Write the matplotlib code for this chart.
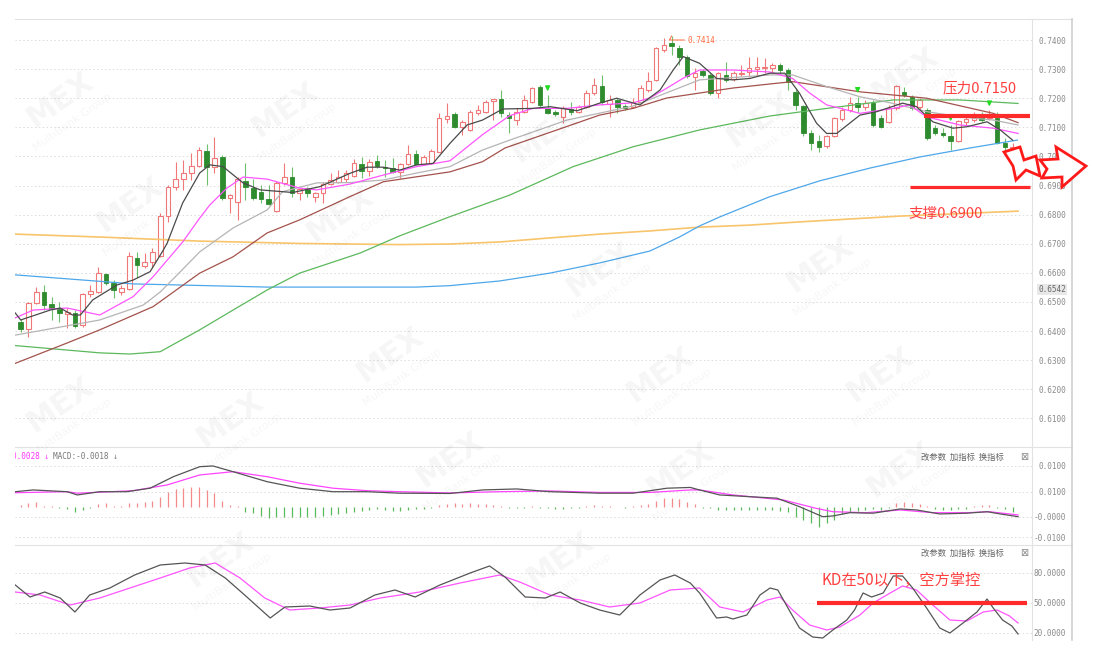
import numpy as np
import matplotlib.pyplot as plt
from matplotlib.patches import Rectangle, Polygon
from matplotlib.lines import Line2D

plt.rcParams['font.family'] = ['Noto Sans CJK SC', 'DejaVu Sans']
MONO = ['DejaVu Sans Mono']

# ---- daily candles ----
opens = [0.6432, 0.6406, 0.6497, 0.6535, 0.6493, 0.6476, 0.6459, 0.6461, 0.6421, 0.6527,
         0.6535, 0.6596, 0.6564, 0.6535, 0.6543, 0.6652, 0.6625, 0.6638, 0.6658, 0.6795,
         0.6896, 0.6921, 0.6942, 0.6968, 0.7020, 0.6965, 0.6999, 0.6858, 0.6844, 0.6916,
         0.6890, 0.6879, 0.6853, 0.6812, 0.6910, 0.6930, 0.6873, 0.6890, 0.6862, 0.6873,
         0.6905, 0.6913, 0.6921, 0.6933, 0.6973, 0.6950, 0.6985, 0.6965, 0.6961, 0.6947,
         0.6974, 0.7008, 0.6974, 0.6976, 0.7016, 0.7128, 0.7146, 0.7102, 0.7091, 0.7148,
         0.7154, 0.7191, 0.7196, 0.7142, 0.7125, 0.7154, 0.7188, 0.7237, 0.7165, 0.7154,
         0.7136, 0.7162, 0.7154, 0.7171, 0.7217, 0.7242, 0.7180, 0.7194, 0.7173, 0.7171,
         0.7188, 0.7228, 0.7263, 0.7366, 0.7389, 0.7371, 0.7340, 0.7274, 0.7295, 0.7280,
         0.7219, 0.7280, 0.7265, 0.7283, 0.7291, 0.7299, 0.7303, 0.7303, 0.7314, 0.7297,
         0.7222, 0.7173, 0.7079, 0.7054, 0.7036, 0.7070, 0.7128, 0.7159, 0.7185, 0.7169,
         0.7182, 0.7131, 0.7119, 0.7165, 0.7222, 0.7205, 0.7171, 0.7159, 0.7097, 0.7082,
         0.7070, 0.7054, 0.7119, 0.7125, 0.7134, 0.7131, 0.7133, 0.7047, 0.7028]
highs = [0.6441, 0.6500, 0.6552, 0.6558, 0.6518, 0.6500, 0.6479, 0.6472, 0.6531, 0.6558,
         0.6621, 0.6598, 0.6575, 0.6558, 0.6673, 0.6673, 0.6667, 0.6684, 0.6804, 0.6902,
         0.6982, 0.6988, 0.7011, 0.7033, 0.7043, 0.7068, 0.7005, 0.6870, 0.6930, 0.6978,
         0.6924, 0.6902, 0.6902, 0.6914, 0.6976, 0.6963, 0.6891, 0.6896, 0.6879, 0.6913,
         0.6942, 0.6953, 0.6953, 0.6990, 0.6999, 0.6990, 0.7005, 0.6988, 0.6993, 0.6976,
         0.7039, 0.7022, 0.7005, 0.7026, 0.7150, 0.7182, 0.7154, 0.7125, 0.7159, 0.7177,
         0.7194, 0.7198, 0.7228, 0.7154, 0.7165, 0.7211, 0.7240, 0.7245, 0.7211, 0.7159,
         0.7173, 0.7188, 0.7177, 0.7228, 0.7268, 0.7280, 0.7211, 0.7200, 0.7180, 0.7200,
         0.7245, 0.7291, 0.7376, 0.7406, 0.7414, 0.7383, 0.7348, 0.7303, 0.7299, 0.7287,
         0.7290, 0.7325, 0.7294, 0.7314, 0.7343, 0.7343, 0.7337, 0.7320, 0.7320, 0.7303,
         0.7235, 0.7177, 0.7091, 0.7074, 0.7074, 0.7135, 0.7171, 0.7205, 0.7205, 0.7194,
         0.7194, 0.7142, 0.7177, 0.7245, 0.7237, 0.7211, 0.7200, 0.7165, 0.7108, 0.7097,
         0.7108, 0.7125, 0.7142, 0.7154, 0.7154, 0.7159, 0.7154, 0.7062, 0.7045]
lows = [0.6397, 0.6381, 0.6494, 0.6472, 0.6438, 0.6432, 0.6410, 0.6410, 0.6414, 0.6518,
        0.6531, 0.6558, 0.6512, 0.6524, 0.6541, 0.6587, 0.6616, 0.6621, 0.6655, 0.6776,
        0.6885, 0.6885, 0.6919, 0.6964, 0.6902, 0.6942, 0.6850, 0.6805, 0.6782, 0.6850,
        0.6850, 0.6839, 0.6833, 0.6809, 0.6902, 0.6862, 0.6850, 0.6861, 0.6844, 0.6839,
        0.6902, 0.6908, 0.6913, 0.6929, 0.6925, 0.6933, 0.6959, 0.6928, 0.6942, 0.6925,
        0.6970, 0.6970, 0.6970, 0.6974, 0.7015, 0.7114, 0.7097, 0.7074, 0.7087, 0.7142,
        0.7149, 0.7125, 0.7134, 0.7079, 0.7108, 0.7149, 0.7182, 0.7171, 0.7146, 0.7139,
        0.7114, 0.7142, 0.7149, 0.7166, 0.7211, 0.7177, 0.7136, 0.7148, 0.7159, 0.7165,
        0.7183, 0.7222, 0.7259, 0.7360, 0.7348, 0.7314, 0.7269, 0.7228, 0.7273, 0.7211,
        0.7200, 0.7257, 0.7259, 0.7276, 0.7274, 0.7280, 0.7286, 0.7286, 0.7286, 0.7228,
        0.7159, 0.7070, 0.7022, 0.7016, 0.7029, 0.7067, 0.7122, 0.7153, 0.7154, 0.7159,
        0.7102, 0.7097, 0.7114, 0.7159, 0.7205, 0.7159, 0.7159, 0.7056, 0.7074, 0.7068,
        0.7022, 0.7050, 0.7108, 0.7119, 0.7119, 0.7125, 0.7043, 0.7005, 0.7011]
closes = [0.6406, 0.6497, 0.6535, 0.6489, 0.6475, 0.6461, 0.6467, 0.6418, 0.6526, 0.6539,
          0.6598, 0.6564, 0.6541, 0.6547, 0.6658, 0.6627, 0.6638, 0.6671, 0.6796, 0.6896,
          0.6921, 0.6942, 0.6968, 0.7022, 0.6965, 0.6996, 0.6858, 0.6867, 0.6921, 0.6894,
          0.6856, 0.6853, 0.6836, 0.6910, 0.6930, 0.6873, 0.6887, 0.6873, 0.6873, 0.6905,
          0.6919, 0.6930, 0.6944, 0.6976, 0.6950, 0.6982, 0.6967, 0.6959, 0.6947, 0.6974,
          0.7008, 0.6973, 0.6999, 0.7020, 0.7131, 0.7139, 0.7102, 0.7119, 0.7154, 0.7159,
          0.7188, 0.7196, 0.7148, 0.7131, 0.7154, 0.7194, 0.7234, 0.7177, 0.7148, 0.7146,
          0.7165, 0.7154, 0.7171, 0.7217, 0.7245, 0.7188, 0.7194, 0.7171, 0.7165, 0.7188,
          0.7234, 0.7260, 0.7371, 0.7383, 0.7380, 0.7343, 0.7276, 0.7288, 0.7280, 0.7217,
          0.7286, 0.7263, 0.7288, 0.7288, 0.7303, 0.7306, 0.7308, 0.7314, 0.7297, 0.7257,
          0.7177, 0.7079, 0.7045, 0.7033, 0.7070, 0.7131, 0.7159, 0.7182, 0.7169, 0.7182,
          0.7108, 0.7102, 0.7165, 0.7243, 0.7211, 0.7165, 0.7194, 0.7062, 0.7082, 0.7074,
          0.7054, 0.7122, 0.7128, 0.7131, 0.7125, 0.7137, 0.7047, 0.7031, 0.7034]

# ---- moving averages (sampled at bar positions) ----
ma5_x = [-0.7, 0, 3.8, 5.1, 6.7, 7.7, 9.3, 12.4, 14.5, 16.7, 18.4, 18.9, 20.9, 23.1, 24.4, 26.1,
         28.7, 30.9, 35.1, 38.6, 42.5, 44.7, 46.8, 48.9, 51.1, 53.2, 55.4, 57.6, 59.6, 62.2, 66.1,
         68.3, 71.8, 74.7, 76.9, 79.9, 82.5, 84.2, 85.5, 87.6, 89.8, 91.9, 94.1, 96.7, 98.6, 100.5,
         102.7, 104, 105.3, 108.3, 110.5, 113.8, 115.6, 117.7, 120.3, 122.1, 124.7, 126.4, 128]
ma5_y = [0.6462, 0.6438, 0.6472, 0.6479, 0.6455, 0.6455, 0.6507, 0.6558, 0.6575, 0.6604, 0.6678,
         0.6702, 0.6840, 0.6943, 0.6971, 0.6965, 0.6909, 0.6885, 0.6876, 0.6896, 0.6942, 0.6963,
         0.6963, 0.6953, 0.6971, 0.6976, 0.7045, 0.7108, 0.7125, 0.7163, 0.7165, 0.7171, 0.7157,
         0.7183, 0.7200, 0.7177, 0.7228, 0.7297, 0.7343, 0.7320, 0.7268, 0.7263, 0.7268, 0.7286,
         0.7286, 0.7217, 0.7114, 0.7079, 0.7079, 0.7142, 0.7154, 0.7183, 0.7171, 0.7119, 0.7097,
         0.7102, 0.7119, 0.7091, 0.7056]
ma10_x = [-0.7, 1.6, 6, 10.2, 14.5, 17.1, 20.9, 23.1, 24.4, 26.6, 28.7, 31.8, 36, 38.2, 42.5,
          46.8, 51.1, 55.4, 59.6, 63.1, 66.1, 70.5, 74.7, 79, 81.2, 83.4, 85.5, 87.6, 91.9, 96.7,
          99.6, 101.8, 104, 108.3, 112.6, 114.7, 116.9, 121.2, 125.5, 128.7]
ma10_y = [0.6445, 0.6472, 0.6479, 0.6455, 0.6518, 0.6587, 0.6706, 0.6788, 0.6833, 0.6891, 0.6929,
          0.6922, 0.6891, 0.6885, 0.6905, 0.6936, 0.6965, 0.6985, 0.7075, 0.7140, 0.7165, 0.7165,
          0.7177, 0.7184, 0.7201, 0.7235, 0.7269, 0.7297, 0.7297, 0.7290, 0.7268, 0.7218, 0.7177,
          0.7148, 0.7165, 0.7177, 0.7136, 0.7108, 0.7097, 0.7079]
ma20_x = [-0.7, 10.2, 15.8, 18, 20.2, 23.1, 27.4, 31.8, 33.8, 38.2, 42.5, 46.8, 51.1, 55.4, 59.6,
          63.1, 70.5, 79, 87.6, 96.7, 99.6, 104, 108.3, 112.6, 116.9, 121.2, 125.5, 128.7]
ma20_y = [0.6386, 0.6438, 0.6489, 0.6534, 0.6593, 0.6672, 0.6754, 0.6816, 0.6879, 0.6909, 0.6910,
          0.6919, 0.6943, 0.6965, 0.7022, 0.7056, 0.7125, 0.7173, 0.7263, 0.7280, 0.7280, 0.7240,
          0.7205, 0.7182, 0.7154, 0.7136, 0.7125, 0.7108]
ma30_x = [-0.7, 6, 10.2, 17.1, 23.1, 27.4, 31.8, 36, 42.5, 46.8, 51.1, 55.4, 59.6, 62.5, 74.7,
          79, 83.4, 91.9, 96.7, 99.6, 108.3, 116.9, 125.5, 128.7]
ma30_y = [0.6289, 0.6359, 0.6404, 0.6484, 0.6599, 0.6655, 0.6737, 0.6782, 0.6862, 0.6913, 0.6930,
          0.6947, 0.6982, 0.7029, 0.7142, 0.7165, 0.7201, 0.7235, 0.7249, 0.7257, 0.7222, 0.7200,
          0.7148, 0.7116]
ma60_x = [-0.7, 10.2, 14.1, 18, 23.1, 27.4, 31.8, 36, 40.3, 43.8, 48.9, 55.4, 63.1, 71.3, 79,
          87.6, 96.7, 104, 112.6, 121.2, 128.7]
ma60_y = [0.6350, 0.6325, 0.6321, 0.6329, 0.6404, 0.6472, 0.6541, 0.6599, 0.6637, 0.6668, 0.6727,
          0.6793, 0.6867, 0.6965, 0.7033, 0.7091, 0.7139, 0.7165, 0.7194, 0.7194, 0.7182]
ma120_x = [-0.7, 14.5, 31.8, 51.1, 55.4, 61.8, 68.3, 74.7, 81.2, 85, 87.6, 90.2, 96.6, 103.1,
           109.6, 116, 122.5, 128.6]
ma120_y = [0.6593, 0.6562, 0.6551, 0.6551, 0.6556, 0.6572, 0.6599, 0.6634, 0.6675, 0.6723, 0.6761,
           0.6792, 0.6861, 0.6916, 0.6960, 0.6998, 0.7029, 0.7056]
ma250_x = [-0.7, 10.2, 23.1, 36, 48.9, 55.4, 61.8, 68.3, 74.7, 81.2, 87.6, 94.1, 100.5, 107,
           113.5, 119.9, 128.7]
ma250_y = [0.6733, 0.6723, 0.6709, 0.6701, 0.6697, 0.6699, 0.6706, 0.6720, 0.6733, 0.6744, 0.6757,
           0.6764, 0.6775, 0.6785, 0.6795, 0.6802, 0.6812]

# ---- MACD ----
macd_hist = [0.0007, 0.0016, 0.0020, 0.0004, 0.0003, -0.0007, -0.0011, -0.0020, -0.0013, -0.0004,
             0.0011, 0.0013, 0.0004, 0.0004, 0.0016, 0.0016, 0.0020, 0.0024, 0.0037, 0.0060,
             0.0069, 0.0073, 0.0077, 0.0080, 0.0067, 0.0053, 0.0024, 0.0007, 0.0002, -0.0020,
             -0.0027, -0.0037, -0.0047, -0.0043, -0.0040, -0.0040, -0.0040, -0.0040, -0.0040, -0.0037,
             -0.0033, -0.0029, -0.0027, -0.0020, -0.0016, -0.0013, -0.0011, -0.0013, -0.0016, -0.0016,
             -0.0013, -0.0011, -0.0008, -0.0004, 0.0007, 0.0011, 0.0013, 0.0011, 0.0013, 0.0011,
             0.0009, 0.0007, 0.0004, -0.0004, -0.0007, -0.0004, 0.0002, -0.0004, -0.0007, -0.0009,
             -0.0009, -0.0007, -0.0004, 0.0002, 0.0007, 0.0004, 0.0002, -0.0002, -0.0004, 0.0002,
             0.0007, 0.0011, 0.0024, 0.0033, 0.0036, 0.0029, 0.0020, 0.0011, -0.0004, -0.0007,
             -0.0012, -0.0012, -0.0012, -0.0012, -0.0012, -0.0012, -0.0012, -0.0012, -0.0016, -0.0020,
             -0.0040, -0.0053, -0.0067, -0.0080, -0.0067, -0.0053, -0.0029, -0.0020, -0.0016, -0.0013,
             -0.0011, -0.0013, -0.0004, 0.0013, 0.0020, 0.0016, 0.0011, 0.0002, -0.0011, -0.0013,
             -0.0013, -0.0011, -0.0008, 0.0002, 0.0007, 0.0007, -0.0007, -0.0011, -0.0020]
dif_x = [-0.7, 1.6, 6, 7.3, 10.2, 13.7, 16.7, 19.7, 23.1, 24.8, 27.4, 31.8, 36, 40.3, 44.7, 48.9,
         55.4, 59.6, 64, 68.3, 74.7, 79, 83.4, 86.4, 87.6, 90.2, 94.1, 97.6, 100.5, 103.5, 104.8,
         107, 110, 113.5, 115.6, 118.6, 122.1, 124.7, 126.4, 128.7]
dif_y = [0.0060, 0.0067, 0.0060, 0.0047, 0.0060, 0.0060, 0.0074, 0.0120, 0.0160, 0.0163, 0.0140,
         0.0100, 0.0074, 0.0060, 0.0060, 0.0054, 0.0053, 0.0067, 0.0071, 0.0060, 0.0054, 0.0054,
         0.0074, 0.0077, 0.0067, 0.0047, 0.0040, 0.0034, 0.0000, -0.0040, -0.0037, -0.0024, -0.0026,
         -0.0009, -0.0013, -0.0029, -0.0026, -0.0020, -0.0029, -0.0040]
dea_x = [-0.7, 6, 7.3, 14.5, 18.9, 23.1, 27.4, 31.8, 36, 40.3, 44.7, 48.9, 55.4, 61.8, 68.3, 74.7,
         81.2, 86.4, 87.6, 91.9, 98.4, 102.7, 104.8, 109.1, 113.5, 117.7, 122.1, 125, 128.7]
dea_y = [0.0056, 0.0060, 0.0054, 0.0064, 0.0087, 0.0127, 0.0140, 0.0120, 0.0094, 0.0074, 0.0064,
         0.0060, 0.0055, 0.0060, 0.0063, 0.0057, 0.0057, 0.0067, 0.0067, 0.0047, 0.0027, -0.0007,
         -0.0020, -0.0024, -0.0013, -0.0024, -0.0024, -0.0020, -0.0033]
macd_ticks = [0.0163, 0.0060, -0.0040, -0.0122]
macd_labels = ['0.0100', '0.0100', '-0.0000', '-0.0100']

# ---- KD ----
k_x = [-0.7, 1.2, 3.1, 5.1, 7.0, 8.9, 11.5, 14.7, 18, 21.2, 23.8, 26.4, 28.9, 32.2, 34.1, 37.3,
       39.9, 42.5, 45.7, 48.3, 50.9, 54.1, 58, 60.5, 62.5, 65.1, 67.7, 69.6, 72.2, 74.7, 77.3, 79.9,
       82.5, 84.4, 86.4, 87.6, 89.8, 91.1, 91.9, 93.7, 95.4, 96.7, 97.7, 99.3, 100.5, 102.2, 103.5,
       104.8, 106.6, 107.6, 108.7, 109.8, 111.3, 112.6, 113.8, 115.1, 116.9, 118.6, 119.9, 121.6,
       123.4, 124.7, 125.5, 126.7, 127.9, 128.7]
k_y = [68, 56, 61, 55, 41, 58, 65, 78, 88, 90, 88, 75, 58, 35, 46, 47, 43, 45, 58, 63, 56, 68, 80,
       87, 76, 56, 55, 61, 50, 43, 38, 58, 73, 78, 70, 60, 35, 36, 34, 38, 58, 65, 63, 41, 25, 16,
       15, 23, 33, 43, 60, 56, 60, 77, 77, 65, 45, 25, 20, 30, 41, 54, 45, 33, 27, 19]
d_x = [-0.7, 2.5, 6.4, 10.2, 14.1, 18, 21.8, 25.1, 28.3, 31.5, 34.7, 38.6, 42.5, 46.4, 51.5, 56.7,
       61.8, 64.4, 68.3, 72.2, 76, 79.9, 83.8, 87.6, 90.2, 93.2, 96.3, 98, 99.6, 101.8, 104, 105.7,
       108.3, 110, 112.2, 113.8, 115.6, 117.7, 119.9, 122.1, 124.2, 126, 127.6, 128.7]
d_y = [61, 58, 48, 55, 65, 75, 85, 90, 75, 55, 43, 45, 48, 55, 61, 70, 78, 71, 58, 53, 46, 50, 63,
       65, 46, 41, 53, 56, 43, 28, 23, 26, 38, 50, 60, 67, 63, 48, 33, 32, 41, 43, 37, 30]

price_ticks = [0.61, 0.62, 0.63, 0.64, 0.65, 0.66, 0.67, 0.68, 0.69, 0.70, 0.71, 0.72, 0.73, 0.74]
resist_level, support_level = 0.7140, 0.6896
signal_bars = [68, 108, 120, 125]

W, H = 1094, 663
fig = plt.figure(figsize=(W / 100, H / 100), dpi=100)


def box(x0, y0, x1, y1):
    return [x0 / W, 1 - y1 / H, (x1 - x0) / W, (y1 - y0) / H]


ax = fig.add_axes(box(15, 19, 1032, 447))
ax2 = fig.add_axes(box(15, 447, 1032, 545))
ax3 = fig.add_axes(box(15, 545, 1032, 640))
XL = (-0.735, 130.5)
grid_kw = dict(color='#dcdcdc', linestyle=(0, (1.5, 2.5)), lw=0.7)

for a in (ax, ax2, ax3):
    a.set_xlim(*XL)
    a.set_facecolor('none')
    for s in a.spines.values():
        s.set_visible(False)
    a.set_xticks([])
    a.yaxis.tick_right()
    a.tick_params(axis='y', length=0, pad=24.5, labelsize=5.6, labelcolor='#8a8a8a')
    a.grid(axis='y', **grid_kw)

# ---- main price panel ----
o, h, l, c = map(np.array, (opens, highs, lows, closes))
idx = np.arange(len(c))
up = c >= o
red, green = '#f07878', '#2e8b2e'
ax.vlines(idx[up], l[up], h[up], color=red, lw=0.8, zorder=3)
ax.vlines(idx[~up], l[~up], h[~up], color='#6cbf6c', lw=0.8, zorder=3)
for i in idx:
    lo, hi = min(o[i], c[i]), max(o[i], c[i])
    hgt = max(hi - lo, 0.00015)
    if up[i]:
        ax.add_patch(Rectangle((i - 0.3, lo), 0.6, hgt, facecolor='white', edgecolor=red,
                               lw=0.8, zorder=4))
    else:
        ax.add_patch(Rectangle((i - 0.3, lo), 0.6, hgt, facecolor=green, edgecolor=green,
                               lw=0.6, zorder=4))

ma_lines = [(ma250_x, ma250_y, '#f8c46c', 1.2), (ma120_x, ma120_y, '#4ea7ea', 0.9),
            (ma60_x, ma60_y, '#5cb85c', 0.9), (ma30_x, ma30_y, '#a4524c', 0.9),
            (ma20_x, ma20_y, '#b5b5b5', 0.9), (ma10_x, ma10_y, '#ff55ff', 0.9),
            (ma5_x, ma5_y, '#4a4a4a', 0.9)]
for xs, ys, col, lw in ma_lines:
    ax.plot(xs, ys, color=col, lw=lw, zorder=5)

for i in signal_bars:
    ax.annotate('', xy=(i, h[i] + 0.0003), xytext=(i, h[i] + 0.0036),
                arrowprops=dict(arrowstyle='-|>', color='#22dd22', lw=1.0, mutation_scale=7),
                zorder=6)

ax.annotate('0.7414', xy=(84, 0.7414), xytext=(86.0, 0.7400), fontsize=5.6, family=MONO,
            color='#ff6a3d', va='center', ha='left',
            arrowprops=dict(arrowstyle='-', color='#ff6a3d', lw=0.7, shrinkA=0, shrinkB=0,
                            connectionstyle='angle,angleA=0,angleB=60,rad=0'))

ax.set_ylim(0.60015, 0.74722)
ax.set_yticks(price_ticks)
ax.set_yticklabels([f'{v:.4f}' for v in price_ticks])
ax.text(1.0334, 0.6542, '0.6542', transform=ax.get_yaxis_transform(), ha='right', va='center',
        fontsize=5.6, family=MONO, color='#666666', clip_on=False,
        bbox=dict(boxstyle='square,pad=0.15', facecolor='#e8e8e8', edgecolor='none'))

ax.hlines(resist_level, 116.6, 130.3, color='#ff2a2a', lw=3.0, zorder=7)
ax.hlines(support_level, 114.7, 130.3, color='#ff2a2a', lw=2.3, zorder=7)
ax.text(119.0, 0.7235, '压力0.7150', color='#ff4040', fontsize=10.5, va='center', ha='left',
        zorder=8)
ax.text(114.5, 0.6802, '支撑0.6900', color='#ff4040', fontsize=10.5, va='center', ha='left',
        zorder=8)

# ---- MACD panel ----
hist = np.array(macd_hist)
pos = hist >= 0
ax2.vlines(idx[pos], 0, hist[pos], color='#f28c8c', lw=0.9)
ax2.vlines(idx[~pos], 0, hist[~pos], color='#5cb85c', lw=0.9)
ax2.plot(dea_x, dea_y, color='#ff44ff', lw=0.9)
ax2.plot(dif_x, dif_y, color='#555555', lw=0.9)
ax2.set_ylim(-0.01532, 0.02388)
ax2.set_yticks(macd_ticks)
ax2.set_yticklabels(macd_labels)
ax2.text(-0.003, 0.898, '0.0028 ↓', transform=ax2.transAxes, color='#ff33ff', fontsize=5.6,
         family=MONO, va='center', ha='left', clip_on=True)
ax2.text(0.0374, 0.898, 'MACD:-0.0018 ↓', transform=ax2.transAxes, color='#777777',
         fontsize=5.6, family=MONO, va='center', ha='left')

# ---- KD panel ----
ax3.plot(d_x, d_y, color='#ff55ff', lw=0.9)
ax3.plot(k_x, k_y, color='#555555', lw=0.9)
ax3.set_ylim(13, 108)
ax3.set_yticks([80, 50, 20])
ax3.set_yticklabels(['80.0000', '50.0000', '20.0000'])
ax3.hlines(50, 102.7, 129.8, color='#ff2a2a', lw=3.0, zorder=7)
ax3.text(103.4, 73, 'KD在50以下，空方掌控', color='#ff4040', fontsize=11, va='center',
         ha='left', zorder=8)

for a in (ax, ax2, ax3):
    for t in a.yaxis.get_major_ticks():
        t.label2.set_horizontalalignment('right')
        t.label2.set_family(MONO)

for a, yf in ((ax2, 0.898), (ax3, 0.916)):
    a.text(0.891, yf, '改参数  加指标  换指标', transform=a.transAxes, fontsize=6,
           color='#666666', va='center', ha='left')
    a.text(0.9885, yf, '⊠', transform=a.transAxes, fontsize=7, color='#888888',
           va='center', ha='left', family=['DejaVu Sans'])


# ---- frame lines (pixel coords) ----
def pline(x0, y0, x1, y1, col='#e2e2e2', lw=0.8):
    fig.add_artist(Line2D([x0 / W, x1 / W], [1 - y0 / H, 1 - y1 / H], color=col, lw=lw))


pline(15, 19, 1072, 19)
pline(15, 447, 1072, 447)
pline(15, 545, 1072, 545)
pline(1032, 19, 1032, 640)
pline(1072, 19, 1072, 640, col='#cfcfcf', lw=1.2)

# ---- watermark ----
wm_pos = [(60, 100), (130, 205), (285, 110), (340, 215), (545, 135), (760, 120), (905, 75),
          (600, 270), (820, 265), (390, 355), (660, 375), (880, 375), (60, 405), (230, 420),
          (450, 460), (680, 470), (900, 470), (560, 560), (220, 560)]
for px, py in wm_pos:
    fig.text(px / W, 1 - py / H, 'MEX', rotation=35, fontsize=22, weight='bold',
             color='#000000', alpha=0.04, ha='center', va='center', family=['DejaVu Sans'])
    fig.text((px + 12) / W, 1 - (py + 22) / H, 'MultiBank Group', rotation=35, fontsize=8,
             color='#000000', alpha=0.04, ha='center', va='center', family=['DejaVu Sans'])

# ---- red hollow arrows at right ----
arrow_big = [(1040, 160), (1058, 159), (1056, 147), (1086, 166), (1062, 187), (1062, 177),
             (1042, 178), (1047, 169)]
arrow_small = [(1004, 152), (1020, 147), (1024, 160), (1036, 156), (1040, 176), (1026, 170),
               (1016, 180), (1013, 166)]
for pts in (arrow_small, arrow_big):
    fig.add_artist(Polygon([(x / W, 1 - y / H) for x, y in pts], closed=True,
                           facecolor='white', edgecolor='#ff1a1a', lw=2.0,
                           transform=fig.transFigure, zorder=10))

fig.savefig('out.png', dpi=100, facecolor='white')
